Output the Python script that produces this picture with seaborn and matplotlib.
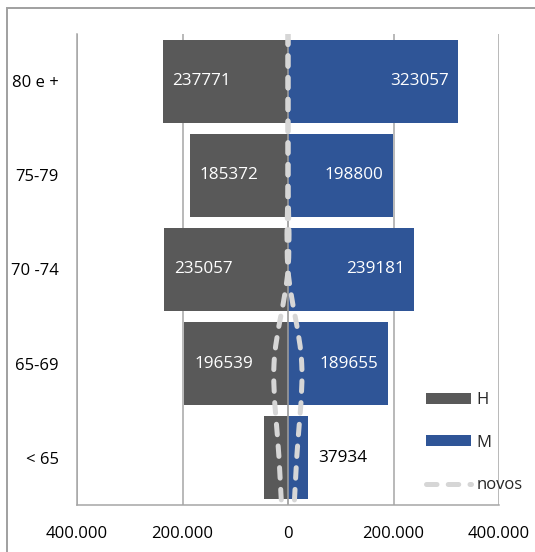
import numpy as np
import pandas as pd
import matplotlib
matplotlib.use("Agg")
import matplotlib.pyplot as plt
import seaborn as sns
from matplotlib.path import Path
from matplotlib.patches import Rectangle, Patch
from matplotlib.lines import Line2D
from matplotlib.ticker import FixedLocator, FuncFormatter

# Age groups, top to bottom
faixas = ["80 e +", "75-79", "70 -74", "65-69", "< 65"]
# Population by sex (H drawn to the left, M to the right)
homens = [237771, 185372, 235057, 196539, 45000]
mulheres = [323057, 198800, 239181, 189655, 37934]
# Which bars carry a value label
rotulo_h = [True, True, True, True, False]
rotulo_m = [True, True, True, True, True]
# "novos" series, mirrored on each side
novos_h = [0, 0, 0, 26500, 17000]
novos_m = [0, 0, 0, 26000, 16500]
# Value axis ticks
ticks_x = [-400000, -200000, 0, 200000, 400000]

COR_H = "#595959"
COR_M = "#2F5597"
COR_NOVOS = "#d6d6d6"
COR_GRADE = "#a6a6a6"

sns.set_style("white")
plt.rcParams["font.family"] = ["Open Sans", "DejaVu Sans"]
plt.rcParams["font.size"] = 12

W, H = 535, 552
fig = plt.figure(figsize=(W / 100, H / 100), dpi=100)
ax = fig.add_axes([77 / W, 1 - 505 / H, (499 - 77) / W, (505 - 34) / H])

df = pd.DataFrame({
    "faixa": faixas * 2,
    "valor": [-v for v in homens] + list(mulheres),
    "sexo": ["H"] * len(faixas) + ["M"] * len(faixas),
})

sns.barplot(data=df, x="valor", y="faixa", hue="sexo", order=faixas,
            hue_order=["H", "M"], palette={"H": COR_H, "M": COR_M},
            dodge=False, width=0.88, orient="h", saturation=1,
            errorbar=None, legend=False, linewidth=0, ax=ax, zorder=2)

ax.set_xlim(-400000, 400000)
ax.set_ylim(len(faixas) - 0.5, -0.5)
ax.set_xlabel("")
ax.set_ylabel("")

# Grid and axis lines
ax.xaxis.set_major_locator(FixedLocator(ticks_x))
ax.xaxis.set_major_formatter(FuncFormatter(lambda v, p: f"{abs(int(v)):,}".replace(",", ".")))
for v in ticks_x:
    if v != 0:
        ax.axvline(v, color=COR_GRADE, lw=1.1, zorder=1)
ax.axvline(0, color="#9a9a9a", lw=1.2, zorder=2.5)
for s in ["top", "right"]:
    ax.spines[s].set_visible(False)
for s in ["left", "bottom"]:
    ax.spines[s].set_color(COR_GRADE)
    ax.spines[s].set_linewidth(1.1)
ax.tick_params(axis="x", length=0, pad=15, labelsize=12, labelcolor="black")
ax.tick_params(axis="y", length=0, pad=13, labelsize=12, labelcolor="black")

# Value labels
for i, (vh, vm) in enumerate(zip(homens, mulheres)):
    if rotulo_h[i]:
        ax.annotate(str(vh), xy=(-vh, i), xytext=(7, 0), textcoords="offset points",
                    ha="left", va="center", color="white", fontsize=12.3, zorder=5)
    if rotulo_m[i]:
        dentro = vm > 60000
        ax.annotate(str(vm), xy=(vm, i), xytext=(-7 if dentro else 7, 0),
                    textcoords="offset points", ha="right" if dentro else "left",
                    va="center", color="white" if dentro else "black",
                    fontsize=12.3, zorder=5)


def curva_suave(valores, sinal):
    """Smoothed line through the group centres, carried to the plot edges."""
    ys = np.arange(len(valores), dtype=float)
    xs = sinal * np.asarray(valores, dtype=float)
    ys = np.concatenate([[ys[0] - 0.5], ys, [ys[-1] + 0.5]])
    xs = np.concatenate([[xs[0]], xs, [xs[-1] + (xs[-1] - xs[-2]) / 2]])
    pts = np.column_stack([xs, ys])
    n = len(pts)
    verts = [pts[0]]
    codes = [Path.MOVETO]
    for i in range(n - 1):
        p0 = pts[max(i - 1, 0)]
        p1 = pts[i]
        p2 = pts[i + 1]
        p3 = pts[min(i + 2, n - 1)]
        verts += [p1 + (p2 - p0) / 6, p2 - (p3 - p1) / 6, p2]
        codes += [Path.CURVE4] * 3
    # flatten the Bezier path in display space so the curve stays smooth
    caminho = ax.transData.transform_path(Path(verts, codes))
    poly = caminho.to_polygons(closed_only=False)[0]
    return ax.transData.inverted().transform(poly)


estilo_novos = (0, (2.1, 2.25))
for valores, sinal in [(novos_h, -1), (novos_m, 1)]:
    xy = curva_suave(valores, sinal)
    ax.plot(xy[:, 0], xy[:, 1], color=COR_NOVOS, lw=3.6, linestyle=estilo_novos,
            dash_capstyle="round", zorder=4)

# Legend
handles = [
    Patch(facecolor=COR_H, edgecolor="none"),
    Patch(facecolor=COR_M, edgecolor="none"),
    Line2D([0], [0], color=COR_NOVOS, lw=3.6, linestyle=estilo_novos,
           dash_capstyle="round"),
]
fig.legend(handles, ["H", "M", "novos"], loc="upper left",
           bbox_to_anchor=(426 / W, 1 - 392 / H), frameon=False,
           handlelength=2.7, handleheight=0.62, handletextpad=0.35,
           labelspacing=1.6, borderpad=0, borderaxespad=0, fontsize=12)

# Chart border
fig.patches.append(Rectangle((7 / W, -0.1), 1.2, 1 - 8 / H + 0.1,
                             transform=fig.transFigure, fill=False,
                             edgecolor="#a0a0a0", lw=1.4, zorder=0))

fig.savefig("out.png", dpi=100)
